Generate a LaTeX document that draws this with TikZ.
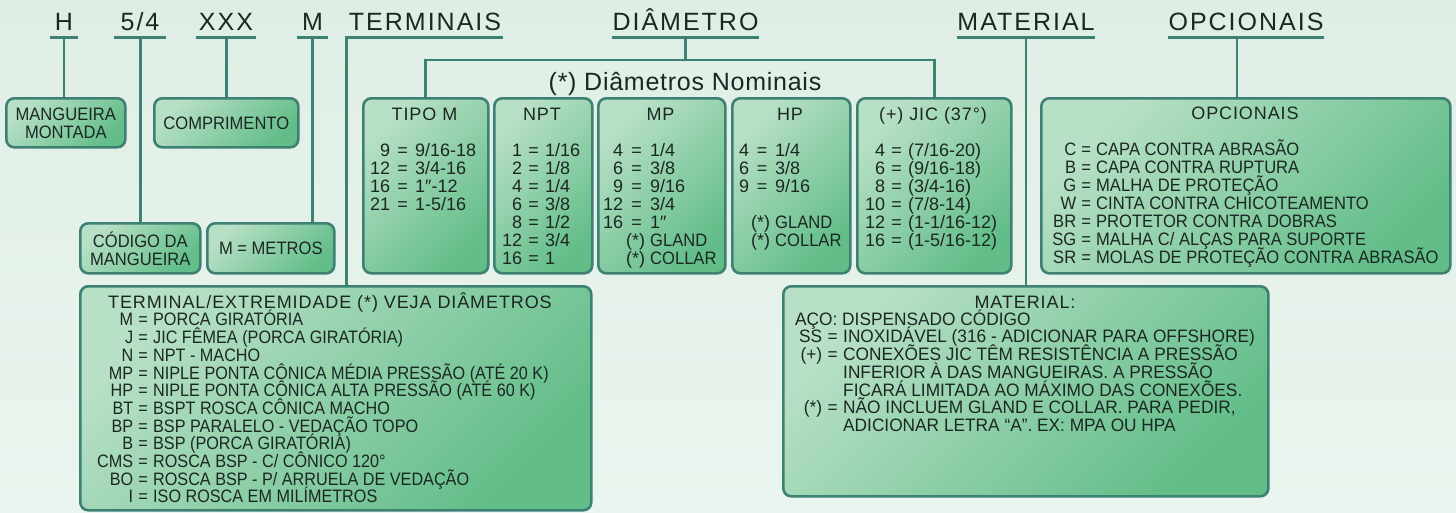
\documentclass[tikz,border=0pt]{standalone}
\usepackage{fontspec}
\setmainfont{Liberation Sans}
\newfontfamily\hfont[LetterSpace=8]{Liberation Sans}
\newfontfamily\nfont[LetterSpace=3]{Liberation Sans}
\newfontfamily\tfont[LetterSpace=5]{Liberation Sans}
\newfontfamily\dfont{Liberation Sans}
\newfontfamily\cfont[FakeStretch=0.92]{Liberation Sans}
\newfontfamily\ctfont[FakeStretch=0.9]{Liberation Sans}
\newfontfamily\cmfont[FakeStretch=0.96]{Liberation Sans}
\definecolor{lineC}{HTML}{3D8074}
\definecolor{boxL}{HTML}{B8E0C6}
\definecolor{boxD}{HTML}{62BD88}
\definecolor{bgT}{HTML}{DFEEE4}
\definecolor{bgB}{HTML}{EBF5EF}
\definecolor{txt}{HTML}{1B2723}
\lineskiplimit=-100pt
\lineskip=0pt
\newlength\cw
\newlength\ew
\newcommand\crow[2]{\makebox[\cw][r]{#1}\makebox[\ew][c]{=}#2}
\newcommand\srow[1]{\makebox[\cw][r]{}\makebox[\ew][r]{(*)\hspace{5pt}}{\cfont #1}}
\newcommand\nrow[1]{\makebox[\cw]{}\makebox[\ew]{}#1}
\begin{document}
\begin{tikzpicture}[x=1pt,y=-1pt,
  conn/.style={draw=lineC,line width=2.7pt},
  box/.style={draw=lineC,line width=2.6pt,rounded corners=8pt,top color=boxL,bottom color=boxD,shading angle=45,anchor=north west,inner sep=0pt,text=txt},
  hdr/.style={font=\hfont\fontsize{25}{25}\selectfont,text=txt,anchor=base,inner xsep=0pt,inner ysep=7pt,text depth=0pt},
  ttl/.style={font=\tfont\fontsize{18}{18}\selectfont,text=txt,anchor=base,inner sep=0pt},
  tbl/.style={anchor=north west,inner sep=0pt,align=left,text=txt},
  lbl/.style={font=\cfont\fontsize{18}{18}\selectfont,align=center}
]
\useasboundingbox (0,0) rectangle (1456,512);
\fill[top color=bgT,bottom color=bgB] (0,0) rectangle (1456,512);

% headers
\node[hdr,minimum width=28pt] (hH) at (64,30) {H};
\node[hdr,minimum width=52pt] (hS) at (140,30) {5/4};
\node[hdr,minimum width=60pt] (hX) at (226,30) {XXX};
\node[hdr,minimum width=31pt] (hM) at (312.5,30) {M};
\node[hdr,minimum width=156pt] (hT) at (425,30) {TERMINAIS};
\node[hdr,minimum width=145pt] (hD) at (685.5,30) {DIÂMETRO};
\node[hdr,minimum width=134pt] (hMa) at (1026,30) {MATERIAL};
\node[hdr,minimum width=148pt] (hO) at (1246,30) {OPCIONAIS};
\foreach \n in {hH,hS,hX,hM,hD,hMa,hO} \draw[conn] (\n.south west) -- (\n.south east);

% boxes
\node[box,lbl,minimum width=119pt,minimum height=49pt] (bMang) at (5,97) {MANGUEIRA\\MONTADA};
\node[box,lbl,minimum width=144pt,minimum height=49pt] (bComp) at (153,97) {COMPRIMENTO};
\node[box,lbl,minimum width=120pt,minimum height=50pt] (bCod) at (79,222) {CÓDIGO DA\\MANGUEIRA};
\node[box,lbl,minimum width=127pt,minimum height=50pt] (bMet) at (206,222) {M = METROS};
\node[box,minimum width=125pt,minimum height=175pt] (bTipo) at (362,97) {};
\node[box,minimum width=98pt,minimum height=175pt] (bNpt) at (493,97) {};
\node[box,minimum width=127pt,minimum height=175pt] (bMp) at (597,97) {};
\node[box,minimum width=118pt,minimum height=175pt] (bHp) at (731,97) {};
\node[box,minimum width=154pt,minimum height=175pt] (bJic) at (856,97) {};
\node[box,minimum width=409pt,minimum height=175pt] (bOpc) at (1040,97) {};
\node[box,minimum width=511pt,minimum height=224pt] (bT) at (79,285) {};
\node[box,minimum width=485pt,minimum height=210pt] (bMat) at (782,285) {};

% connectors
\draw[conn] (hH.south) -- (hH.south |- bMang.north);
\draw[conn] (bCod.north |- hS.south) -- (bCod.north);
\draw[conn] (bComp.north |- hX.south) -- (bComp.north);
\draw[conn] (hM.south) -- (hM.south |- bMet.north);
\draw[conn] (hT.south east) -- (hT.south west) -- (hT.south west |- bT.north);
\draw[conn] (hD.south) -- ++(0,23);
\draw[conn] (bTipo.north) -- ++(0,-37) -| (bJic.north);
\draw[conn] (hMa.south) -- (hMa.south |- bMat.north);
\draw[conn] ([xshift=-9pt]hO.south) -- ([xshift=-9pt]hO.south |- bOpc.north);

\node[font=\nfont\fontsize{25}{25}\selectfont,text=txt,anchor=base] (nom) at (685,90) {(*) Diâmetros Nominais};

% titles
\node[ttl] (tTipo) at (424.5,120) {TIPO M};
\node[ttl] (tNpt) at (542,120) {NPT};
\node[ttl] (tMp) at (660.5,120) {MP};
\node[ttl] (tHp) at (790,120) {HP};
\node[ttl] (tJic) at (933,120) {(+) JIC (37°)};
\node[ttl] (tOpc) at (1245,119) {OPCIONAIS};
\node[ttl,anchor=base west] (tTerm) at (108,308) {TERMINAL/EXTREMIDADE (*) VEJA DIÂMETROS};
\node[ttl] (tMat) at (1025,308) {MATERIAL:};

% tables
\node[tbl,font={\dfont\fontsize{18}{18}\selectfont\setlength\cw{25pt}\setlength\ew{25pt}}] (dTipo) at (365,138)
 {\rule{0pt}{18pt}\crow{9}{9/16-18}\\ \crow{12}{3/4-16}\\ \crow{16}{1″-12}\\ \crow{21}{1-5/16}};
\node[tbl,font={\dfont\fontsize{18}{18}\selectfont\setlength\cw{25pt}\setlength\ew{23pt}}] (dNpt) at (497,138)
 {\rule{0pt}{18pt}\crow{1}{1/16}\\ \crow{2}{1/8}\\ \crow{4}{1/4}\\ \crow{6}{3/8}\\ \crow{8}{1/2}\\ \crow{12}{3/4}\\ \crow{16}{1}};
\node[tbl,font={\dfont\fontsize{18}{18}\selectfont\setlength\cw{25pt}\setlength\ew{27pt}}] (dMp) at (598,138)
 {\rule{0pt}{18pt}\crow{4}{1/4}\\ \crow{6}{3/8}\\ \crow{9}{9/16}\\ \crow{12}{3/4}\\ \crow{16}{1″}\\ \srow{GLAND}\\ \srow{COLLAR}};
\node[tbl,font={\dfont\fontsize{18}{18}\selectfont\setlength\cw{25pt}\setlength\ew{26pt}}] (dHp) at (724,138)
 {\rule{0pt}{18pt}\crow{4}{1/4}\\ \crow{6}{3/8}\\ \crow{9}{9/16}\\ \mbox{}\\ \srow{GLAND}\\ \srow{COLLAR}};
\node[tbl,font={\dfont\fontsize{18}{18}\selectfont\setlength\cw{25pt}\setlength\ew{23pt}}] (dJic) at (860,138)
 {\rule{0pt}{18pt}\crow{4}{(7/16-20)}\\ \crow{6}{(9/16-18)}\\ \crow{8}{(3/4-16)}\\ \crow{10}{(7/8-14)}\\ \crow{12}{(1-1/16-12)}\\ \crow{16}{(1-5/16-12)}};
\node[tbl,font={\cfont\fontsize{18}{18}\selectfont\setlength\cw{30pt}\setlength\ew{20pt}}] (dOpc) at (1046,137)
 {\rule{0pt}{18pt}\crow{C}{CAPA CONTRA ABRASÃO}\\ \crow{B}{CAPA CONTRA RUPTURA}\\ \crow{G}{MALHA DE PROTEÇÃO}\\ \crow{W}{CINTA CONTRA CHICOTEAMENTO}\\ \crow{BR}{PROTETOR CONTRA DOBRAS}\\ \crow{SG}{MALHA C/ ALÇAS PARA SUPORTE}\\ \crow{SR}{MOLAS DE PROTEÇÃO CONTRA ABRASÃO}};
\node[tbl,font={\ctfont\fontsize{18}{17.7}\selectfont\setlength\cw{42pt}\setlength\ew{20pt}}] (dTerm) at (91,307.7)
 {\rule{0pt}{18pt}\crow{M}{PORCA GIRATÓRIA}\\ \crow{J}{JIC FÊMEA (PORCA GIRATÓRIA)}\\ \crow{N}{NPT - MACHO}\\ \crow{MP}{NIPLE PONTA CÔNICA MÉDIA PRESSÃO (ATÉ 20 K)}\\ \crow{HP}{NIPLE PONTA CÔNICA ALTA PRESSÃO (ATÉ 60 K)}\\ \crow{BT}{BSPT ROSCA CÔNICA MACHO}\\ \crow{BP}{BSP PARALELO - VEDAÇÃO TOPO}\\ \crow{B}{BSP (PORCA GIRATÓRIA)}\\ \crow{CMS}{ROSCA BSP - C/ CÔNICO 120°}\\ \crow{BO}{ROSCA BSP - P/ ARRUELA DE VEDAÇÃO}\\ \crow{I}{ISO ROSCA EM MILÍMETROS}};
\node[tbl,font={\cmfont\fontsize{18}{17.7}\selectfont\setlength\cw{31pt}\setlength\ew{21pt}}] (dMat) at (791,307)
 {\rule{0pt}{18pt}\hspace*{4pt}AÇO: DISPENSADO CÓDIGO\\ \crow{SS}{INOXIDÁVEL (316 - ADICIONAR PARA OFFSHORE)}\\ \crow{(+)}{CONEXÕES JIC TÊM RESISTÊNCIA A PRESSÃO}\\ \nrow{INFERIOR À DAS MANGUEIRAS. A PRESSÃO}\\ \nrow{FICARÁ LIMITADA AO MÁXIMO DAS CONEXÕES.}\\ \crow{(*)}{NÃO INCLUEM GLAND E COLLAR. PARA PEDIR,}\\ \nrow{ADICIONAR LETRA “A”. EX: MPA OU HPA}};
\end{tikzpicture}
\end{document}
